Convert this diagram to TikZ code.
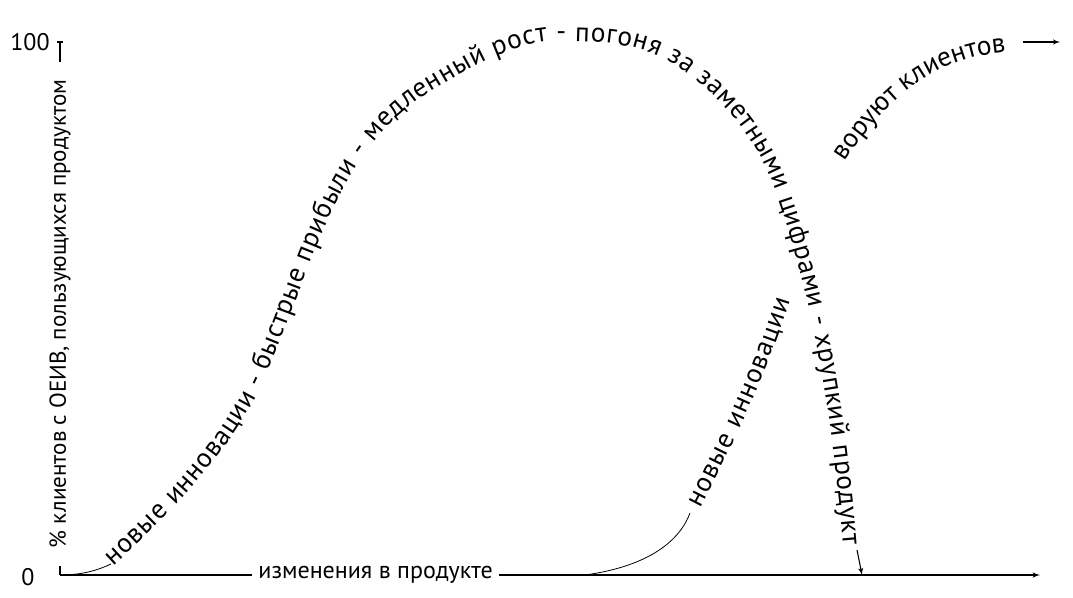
\documentclass[tikz,border=0pt]{standalone}
\usepackage{fontspec}
\setmainfont{PT Sans}
\usetikzlibrary{arrows,positioning,decorations.text}
\newcommand{\curvefont}{\fontsize{20.5}{24}\selectfont}
\newcommand{\axisfont}{\fontsize{18}{21}\selectfont}

\begin{document}
\begin{tikzpicture}[>=latex', x=0.75pt, y=-0.75pt, font=\axisfont]
        \tikzset{
            axis/.style= {
                draw,
                line width=0.9pt
            },
            axislabel/.style= {
                fill=white,
                inner ysep=2pt
            },
            curvetext/.style= {
                decorate,
                decoration={text along path,
                    text align={fit to path},
                    text={|\curvefont|#1}}
            },
        }
        \useasboundingbox (0,0) rectangle (1073,597);
        \coordinate (origin) at (60,575);
        \coordinate (ytop) at (60,42);
        \coordinate (xend) at (1040,575);
        \node (zero) at (28,577) {0};
        \node (hundred) at (30,42) {100};
%% axes
\draw[axis] (origin) -- node[axislabel, rotate=90, pos=0.49, inner xsep=13pt,
    font=\fontsize{17.3}{20}\selectfont]
    {\% клиентов с ОЕИВ, пользующихся продуктом} (ytop);
\draw[axis] ([xshift=-2.5pt]ytop) -- ([xshift=2.5pt]ytop);
\draw[axis,->] (origin) -- node[axislabel, pos=0.322, inner xsep=4.5pt]
    {изменения в продукте} (xend);
%% first wave
        \coordinate (riseA) at (111,564);
        \coordinate (fallA) at (857,550);
        \coordinate (fallB) at (862,575);
\draw[line width=0.6pt] (origin) .. controls (85,575) and (100,569) .. (riseA);
\path[curvetext={новые инновации - быстрые прибыли - медленный рост - погоня за заметными цифрами - хрупкий продукт}]
    (113,566) .. controls (172,512) and (232,451) .. (265,378)
    .. controls (310,278) and (335,148) .. (430,92)
    .. controls (470,68) and (513,41) .. (560,41)
    .. controls (597,41) and (638,43) .. (670,62)
    .. controls (717,90) and (757,138) .. (775,190)
    .. controls (815,303) and (833,425) .. (843,545);
\draw[->, line width=0.8pt] (fallA) -- (fallB);
%% second wave
        \coordinate (riseB) at (585,575);
        \coordinate (riseC) at (690,513);
\draw[line width=0.6pt] (riseB) .. controls (650,566) and (680,540) .. (riseC);
\path[curvetext={новые инновации}]
    (700,508) .. controls (735,440) and (765,380) .. (790,300);
%% clients
\path[curvetext={воруют клиентов}]
    (845,162) .. controls (885,100) and (930,60) .. (1003,52);
        \coordinate (stealA) at (1023,42);
        \coordinate (stealB) at (1060,42);
\draw[->, line width=0.8pt] (stealA) -- (stealB);
\end{tikzpicture}
\end{document}
